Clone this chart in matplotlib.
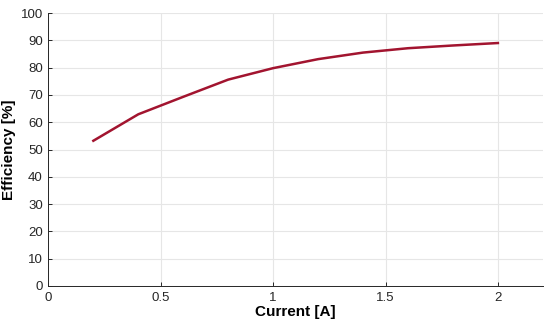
import numpy as np
import matplotlib
matplotlib.use("Agg")
import matplotlib.pyplot as plt

# data
current = [0.2, 0.4, 0.6, 0.8, 1.0, 1.2, 1.4, 1.6, 1.8, 2.0]
efficiency = [53.2, 62.9, 69.3, 75.6, 79.8, 83.1, 85.5, 87.1, 88.1, 89.0]

x_ticks = [0, 0.5, 1, 1.5, 2]
x_tick_labels = ["0", "0.5", "1", "1.5", "2"]
y_ticks = list(range(0, 101, 10))

plt.rcParams['font.family'] = ['Liberation Sans', 'DejaVu Sans']

fig = plt.figure(figsize=(5.5, 3.25), dpi=100)
ax = fig.add_axes([0.088, 0.12, 0.899, 0.84])

ax.plot(current, efficiency, color="#A2142F", linewidth=1.8)

ax.set_xlim(0, 2.2)
ax.set_ylim(0, 100)
ax.set_xticks(x_ticks)
ax.set_xticklabels(x_tick_labels)
ax.set_yticks(y_ticks)

ax.grid(True, color="#e6e6e6", linewidth=0.8)
ax.set_axisbelow(True)

for side in ["top", "right"]:
    ax.spines[side].set_visible(False)
for side in ["left", "bottom"]:
    ax.spines[side].set_color("#262626")
    ax.spines[side].set_linewidth(0.7)

ax.tick_params(direction="in", length=3, width=0.7, colors="#262626", labelsize=9.5, pad=4)

ax.set_xlabel("Current [A]", fontsize=11, fontweight="bold", labelpad=1)
ax.set_ylabel("Efficiency [%]", fontsize=11, fontweight="bold")
# put the y label just right of the figure edge, as in the reference
ax.yaxis.set_label_coords(-0.065, 0.5)

fig.savefig("out.png", dpi=100)
